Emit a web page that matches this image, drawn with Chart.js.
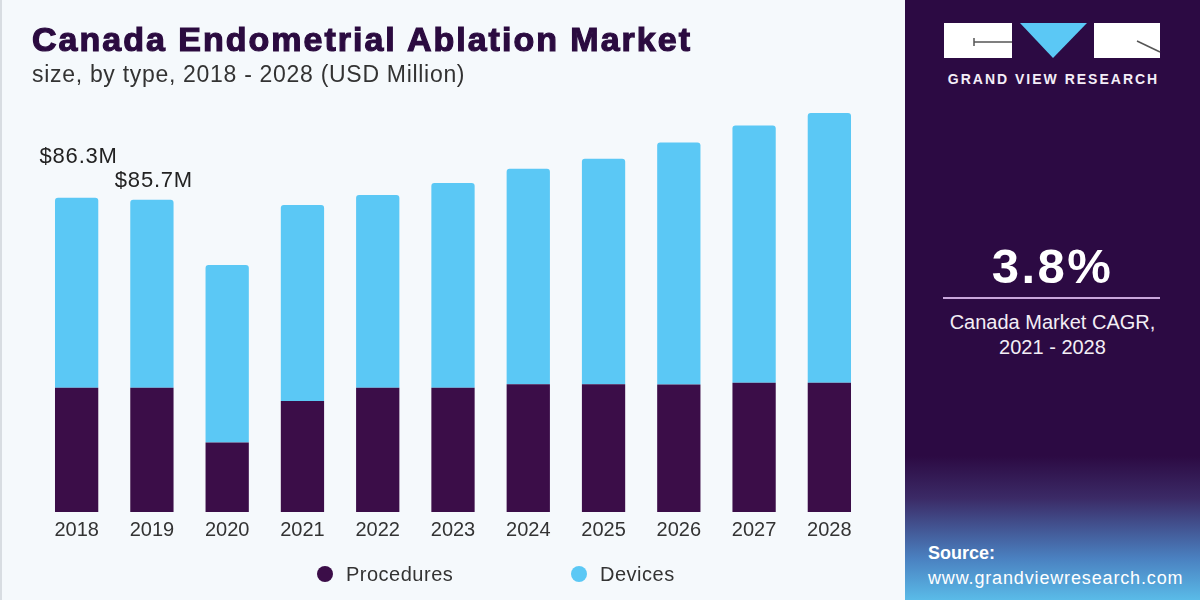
<!DOCTYPE html>
<html>
<head>
<meta charset="utf-8">
<script src="https://cdn.jsdelivr.net/npm/chart.js@4.4.0/dist/chart.umd.min.js"></script>
<style>
  body { margin: 0; width: 1200px; height: 600px; overflow: hidden; font-family: "Liberation Sans", Arial, sans-serif; }
  #left { position: absolute; left: 0; top: 0; width: 905px; height: 600px; background: #f5f9fc; border-left: 2px solid #d8dde2; box-sizing: border-box; }
  #chartBox { position: absolute; left: 0; top: 0; width: 905px; height: 600px; }
  #title { position: absolute; left: 32px; top: 20px; font-size: 34px; font-weight: bold; color: #2b0b40; -webkit-text-stroke: 1.2px #2b0b40; letter-spacing: 2px; white-space: nowrap; }
  #subtitle { position: absolute; left: 32px; top: 61px; font-size: 23px; color: #333; letter-spacing: 0.7px; white-space: nowrap; }
  #legend { position: absolute; left: 317px; top: 563px; font-size: 20px; letter-spacing: 0.5px; color: #333; white-space: nowrap; }
  #legend span.item { display: inline-block; }
  #legend span.item:first-child { width: 254px; }
  #legend span.dot { display: inline-block; width: 16px; height: 16px; border-radius: 50%; margin-right: 13px; vertical-align: -1px; }
  #right { position: absolute; left: 905px; top: 0; width: 295px; height: 600px;
           background: linear-gradient(to bottom, #2c0a43 0%, #2c0a43 76%, #3b2a66 83%, #4a80c0 93%, #5abbe8 100%); color: #fff; }
  #brand { position: absolute; left: 37px; top: 71px; width: 223px; text-align: center; font-size: 14px; font-weight: bold; letter-spacing: 2px; color: #f4eef8; }
  #cagr { position: absolute; left: 0; width: 295px; top: 238px; text-align: center; font-size: 49px; font-weight: bold; letter-spacing: 2.5px; }
  #rule { position: absolute; left: 38px; width: 217px; top: 297px; height: 2px; background: #c9a6dc; }
  #cagrText { position: absolute; left: 0; width: 295px; top: 310px; text-align: center; font-size: 20px; line-height: 25px; color: #f3eef6; }
  #source { position: absolute; left: 23px; top: 541px; font-size: 18px; line-height: 25px; color: #fff; }
  #source span { letter-spacing: 0.85px; }
</style>
</head>
<body>
<div id="left"></div>
<div id="chartBox"><canvas id="chart" width="905" height="600"></canvas></div>
<div id="title">Canada Endometrial Ablation Market</div>
<div id="subtitle">size, by type, 2018 - 2028 (USD Million)</div>
<div id="legend"></div>
<div id="right">
  <svg width="295" height="70" style="position:absolute;left:0;top:0">
    <rect x="39" y="23" width="68" height="35" fill="#ffffff"/>
    <line x1="69" y1="42" x2="107" y2="42" stroke="#555" stroke-width="1.5"/>
    <line x1="69" y1="38" x2="69" y2="46" stroke="#555" stroke-width="1.5"/>
    <polygon points="115,23 182,23 148,58" fill="#5bc8f5"/>
    <rect x="189" y="23" width="66" height="35" fill="#ffffff"/>
    <line x1="232" y1="41" x2="255" y2="52" stroke="#555" stroke-width="1.5"/>
  </svg>
  <div id="brand">GRAND VIEW RESEARCH</div>
  <div id="cagr">3.8%</div>
  <div id="rule"></div>
  <div id="cagrText">Canada Market CAGR,<br>2021 - 2028</div>
  <div id="source"><b>Source:</b><br><span>www.grandviewresearch.com</span></div>
</div>

<script>
// ---- data ----
const years = ["2018", "2019", "2020", "2021", "2022", "2023", "2024", "2025", "2026", "2027", "2028"];
const procedures = [34.1, 34.1, 19.1, 30.5, 34.1, 34.1, 35.1, 35.1, 35.0, 35.5, 35.5];
const devices = [52.2, 51.6, 48.7, 53.8, 52.9, 56.2, 59.1, 61.9, 66.4, 70.6, 74.0];
const totalLabels = ["$86.3M", "$85.7M"];

const seriesNames = ["Procedures", "Devices"];
const seriesColors = ["#3b0d48", "#5bc8f5"];

// total labels over the first bars
const totalsPlugin = {
  id: "totals",
  afterDatasetsDraw(chart) {
    const ctx = chart.ctx;
    const meta = chart.getDatasetMeta(1);
    const lift = [41, 19];
    ctx.save();
    ctx.font = "22px 'Liberation Sans', Arial, sans-serif";
    ctx.letterSpacing = "0.8px";
    ctx.fillStyle = "#222";
    ctx.textAlign = "center";
    ctx.textBaseline = "middle";
    totalLabels.forEach((txt, i) => {
      const bar = meta.data[i];
      ctx.fillText(txt, bar.x + 2, bar.y - lift[i]);
    });
    ctx.restore();
  }
};

const chart = new Chart(document.getElementById("chart").getContext("2d"), {
  type: "bar",
  data: {
    labels: years,
    datasets: [
      {
        label: seriesNames[0],
        data: procedures,
        backgroundColor: seriesColors[0],
        barPercentage: 0.575,
        categoryPercentage: 1
      },
      {
        label: seriesNames[1],
        data: devices,
        backgroundColor: seriesColors[1],
        borderRadius: { topLeft: 3, topRight: 3 },
        borderSkipped: false,
        barPercentage: 0.575,
        categoryPercentage: 1
      }
    ]
  },
  options: {
    responsive: false,
    animation: false,
    layout: {
      padding: { top: 100, left: 39, right: 38, bottom: 52 }
    },
    plugins: {
      legend: { display: false },
      tooltip: { enabled: false }
    },
    scales: {
      x: {
        stacked: true,
        grid: { display: false, drawTicks: false },
        border: { display: false },
        ticks: {
          padding: 6,
          color: "#333",
          font: { family: "'Liberation Sans', Arial, sans-serif", size: 20 }
        }
      },
      y: {
        stacked: true,
        display: false,
        min: 0,
        max: 113.1
      }
    }
  },
  plugins: [totalsPlugin]
});

// html legend from the datasets
const legendBox = document.getElementById("legend");
chart.data.datasets.forEach(ds => {
  const item = document.createElement("span");
  item.className = "item";
  item.innerHTML = '<span class="dot" style="background:' + ds.backgroundColor + '"></span>' + ds.label;
  legendBox.appendChild(item);
});
</script>
</body>
</html>
